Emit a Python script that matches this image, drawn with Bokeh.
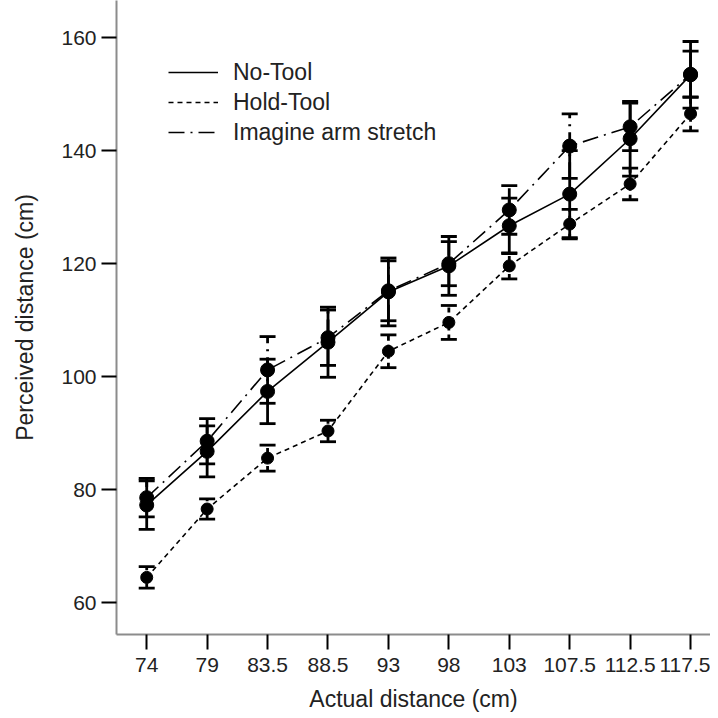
from bokeh.plotting import figure
from bokeh.models import ColumnDataSource, Whisker, TeeHead, Range1d, FixedTicker, Legend, LegendItem
from bokeh.embed import file_html
from bokeh.resources import INLINE

# ---- data ----
labels = ["74", "79", "83.5", "88.5", "93", "98", "103", "107.5", "112.5", "117.5"]
no_tool = [77.3, 86.8, 97.4, 106.1, 115.0, 119.6, 126.7, 132.3, 142.1, 153.4]
no_tool_err = [4.3, 4.5, 5.7, 6.2, 6.0, 5.2, 4.9, 7.7, 6.6, 5.9]
hold_tool = [64.5, 76.6, 85.6, 90.4, 104.5, 109.6, 119.6, 127.0, 134.1, 146.5]
hold_tool_err = [1.9, 1.8, 2.3, 1.9, 2.9, 3.0, 2.3, 2.6, 2.8, 3.0]
imagine = [78.6, 88.6, 101.2, 106.9, 115.2, 120.0, 129.5, 140.8, 144.2, 153.5]
imagine_err = [3.4, 4.0, 5.9, 4.9, 5.3, 3.9, 4.3, 5.7, 4.2, 4.1]
y_ticks = [60, 80, 100, 120, 140, 160]

FONT = "Liberation Sans"
xs = list(range(len(labels)))

p = figure(output_backend="svg", toolbar_location=None,
           frame_width=594, frame_height=634,
           min_border_left=116, min_border_right=0, min_border_top=0, min_border_bottom=80,
           x_range=Range1d(-0.5, 9.33), y_range=Range1d(54.4, 166.55))
p.outline_line_color = None
p.xgrid.visible = False
p.ygrid.visible = False
p.background_fill_color = "white"
p.border_fill_color = "white"

series = [
    ("No-Tool", no_tool, no_tool_err, "solid", 14),
    ("Hold-Tool", hold_tool, hold_tool_err, "5 4", 12),
    ("Imagine arm stretch", imagine, imagine_err, "16 6 2 6", 14),
]

items = []
for name, vals, errs, dash, size in series:
    src = ColumnDataSource(dict(
        x=xs, y=vals,
        lower=[v - e for v, e in zip(vals, errs)],
        upper=[v + e for v, e in zip(vals, errs)],
    ))
    ln = p.line("x", "y", source=src, line_color="black", line_width=1.6, line_dash=dash)
    w = Whisker(base="x", lower="lower", upper="upper", source=src,
                line_color="black", line_width=2.8, line_dash=dash,
                upper_head=TeeHead(size=16, line_color="black", line_width=2.8),
                lower_head=TeeHead(size=16, line_color="black", line_width=2.8))
    p.add_layout(w)
    p.scatter("x", "y", source=src, marker="circle", size=size,
              fill_color="black", line_color="black")
    items.append(LegendItem(label=name, renderers=[ln]))

legend = Legend(items=items, location=(52, 487), margin=0, padding=0,
                spacing=0, glyph_width=50, glyph_height=30, label_height=30,
                label_standoff=15,
                label_text_font=FONT, label_text_font_size="23px",
                label_text_color="#222222",
                background_fill_alpha=0, border_line_color=None)
p.add_layout(legend)

# axes
p.xaxis.ticker = FixedTicker(ticks=xs)
p.xaxis.major_label_overrides = {i: lab for i, lab in zip(xs, labels)}
p.yaxis.ticker = FixedTicker(ticks=y_ticks)
for ax in (p.xaxis[0], p.yaxis[0]):
    ax.axis_line_color = "#8c8c8c"
    ax.axis_line_width = 2
    ax.major_tick_line_color = "black"
    ax.major_tick_line_width = 2
    ax.major_tick_in = 0
    ax.major_tick_out = 15
    ax.minor_tick_line_color = None
    ax.major_label_text_font = FONT
    ax.major_label_text_font_size = "21px"
    ax.major_label_text_color = "#222222"
    ax.axis_label_text_font = FONT
    ax.axis_label_text_font_size = "23px"
    ax.axis_label_text_font_style = "normal"
    ax.axis_label_text_color = "#222222"

p.xaxis.axis_label = "Actual distance (cm)"
p.yaxis.axis_label = "Perceived distance (cm)"
p.xaxis.major_label_standoff = 8
p.xaxis.axis_label_standoff = 11
p.yaxis.major_label_standoff = 5
p.yaxis.axis_label_standoff = 20

open("out.html", "w").write(file_html(p, INLINE))
